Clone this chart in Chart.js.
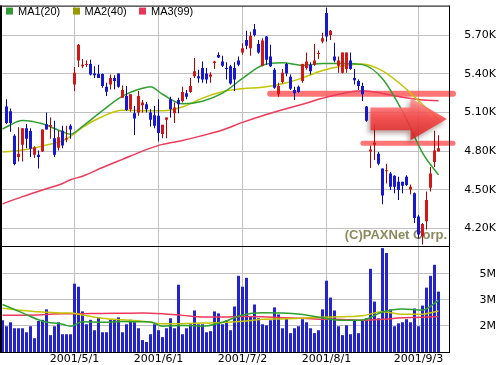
<!DOCTYPE html>
<html>
<head>
<meta charset="utf-8">
<script src="https://cdn.jsdelivr.net/npm/chart.js@4.4.0/dist/chart.umd.min.js"></script>
<style>
html, body { margin: 0; padding: 0; background: #fff; }
#wrap { width: 499px; height: 365px; position: relative; }
</style>
</head>
<body>
<div id="wrap"><canvas id="myChart"></canvas></div>
<script>
"use strict"
// Kursdaten in K, Index 0..109 (ein Balken pro Handelstag)
const openP = [null, 5.146, 5.110, 4.92, 4.754, 4.849, 4.977, 4.956, 4.772, 4.772,
  4.797, 5.008, 4.992, 4.90, 4.826, 4.959, 4.89, 4.997, 5.318, 5.505,
  5.459, 5.469, 5.477, 5.403, 5.40, 5.40, 5.30, 5.318, 5.369, 5.403,
  5.215, 5.228, 5.126, 5.095, 5.10, 5.156, 5.164, 5.10, 5.079, 5.074,
  4.933, 5.044, 5.203, 5.095, 5.197, 5.19, 5.249, 5.259, 5.382, 5.382,
  5.446, 5.403, 5.377, 5.484, 5.546, 5.497, 5.446, 5.459, 5.446, 5.505,
  5.567, 5.664, 5.60, 5.746, 5.633, 5.464, 5.69, 5.536, 5.433, 5.241,
  5.336, 5.477, 5.377, 5.274, 5.30, 5.344, 5.446, 5.472, 5.472, 5.554,
  5.651, 5.874, 5.703, 5.536, 5.464, 5.408, 5.438, 5.505, 5.369, 5.344,
  5.305, 5.146, 4.797, 4.849, 4.779, 4.664, 4.644, 4.626, 4.608, 4.562,
  4.562, 4.60, 4.502, 4.472, 4.292, 4.138, 4.254, 4.515, 4.715, 4.797]
const highP = [null, 5.203, 5.131, 4.93, 4.985, 4.977, 5.010, 4.977, 4.838, 4.805,
  4.967, 5.10, 5.062, 5.036, 4.959, 4.997, 4.997, 5.008, 5.454, 5.633,
  5.515, 5.505, 5.51, 5.459, 5.472, 5.403, 5.331, 5.395, 5.39, 5.403,
  5.31, 5.305, 5.241, 5.151, 5.267, 5.197, 5.182, 5.126, 5.151, 5.203,
  5.005, 5.062, 5.223, 5.177, 5.215, 5.30, 5.274, 5.369, 5.523, 5.433,
  5.497, 5.446, 5.413, 5.503, 5.569, 5.541, 5.49, 5.472, 5.49, 5.536,
  5.638, 5.736, 5.728, 5.787, 5.664, 5.677, 5.695, 5.626, 5.446, 5.331,
  5.438, 5.484, 5.395, 5.30, 5.31, 5.479, 5.567, 5.49, 5.633, 5.582,
  5.72, 5.915, 5.741, 5.643, 5.536, 5.567, 5.567, 5.567, 5.438, 5.356,
  5.331, 5.151, 4.844, 5.01, 4.792, 4.664, 4.702, 4.638, 4.613, 4.60,
  4.562, 4.613, 4.541, 4.479, 4.305, 4.241, 4.485, 4.677, 4.959, 4.923]
const lowP = [null, 5.010, 4.951, 4.69, 4.72, 4.72, 4.823, 4.754, 4.746, 4.664,
  4.792, 4.967, 4.895, 4.754, 4.805, 4.823, 4.869, 4.895, 5.267, 5.454,
  5.446, 5.454, 5.387, 5.369, 5.369, 5.292, 5.228, 5.279, 5.28, 5.292,
  5.215, 5.113, 5.105, 4.926, 5.074, 5.10, 5.10, 4.992, 4.977, 4.874,
  4.90, 4.90, 5.062, 5.018, 5.095, 5.177, 5.203, 5.254, 5.369, 5.331,
  5.331, 5.326, 5.331, 5.438, 5.523, 5.454, 5.356, 5.318, 5.267, 5.459,
  5.549, 5.592, 5.541, 5.69, 5.556, 5.459, 5.472, 5.454, 5.285, 5.223,
  5.326, 5.382, 5.274, 5.197, 5.254, 5.331, 5.433, 5.395, 5.464, 5.515,
  5.638, 5.651, 5.664, 5.49, 5.408, 5.403, 5.408, 5.433, 5.318, 5.274,
  5.19, 5.028, 4.669, 4.731, 4.69, 4.387, 4.549, 4.497, 4.472, 4.42,
  4.472, 4.531, 4.464, 4.241, 4.12, 4.074, 4.19, 4.485, 4.677, 4.797]
const closeP = [null, 5.018, 5.018, 4.70, 4.779, 4.977, 4.895, 4.818, 4.828, 4.754,
  4.967, 4.967, 5.003, 4.772, 4.908, 4.844, 4.90, 4.967, 5.408, 5.626,
  5.472, 5.474, 5.395, 5.39, 5.369, 5.305, 5.262, 5.369, 5.344, 5.30,
  5.274, 5.12, 5.241, 5.054, 5.228, 5.177, 5.126, 5.044, 4.997, 4.941,
  5.005, 5.062, 5.126, 5.138, 5.164, 5.259, 5.223, 5.305, 5.421, 5.367,
  5.356, 5.356, 5.395, 5.497, 5.528, 5.464, 5.438, 5.326, 5.356, 5.472,
  5.60, 5.618, 5.695, 5.703, 5.567, 5.659, 5.51, 5.459, 5.292, 5.305,
  5.408, 5.403, 5.285, 5.249, 5.259, 5.477, 5.497, 5.421, 5.505, 5.561,
  5.677, 5.69, 5.736, 5.505, 5.505, 5.567, 5.567, 5.438, 5.351, 5.305,
  5.241, 5.036, 4.813, 4.864, 4.702, 4.454, 4.651, 4.523, 4.523, 4.497,
  4.531, 4.536, 4.523, 4.279, 4.151, 4.233, 4.42, 4.626, 4.805, 4.823]
// Volumen in Mio.
const volume = [2.07, 1.68, 1.94, 1.55, 1.55, 1.55, 1.29, 1.68, 0.90, 2.02,
  2.10, 2.78, 1.10, 1.68, 1.94, 1.16, 1.16, 1.16, 4.46, 4.26,
  2.65, 1.81, 2.10, 1.42, 2.26, 1.29, 1.29, 2.10, 2.10, 2.26,
  1.29, 1.81, 2.10, 1.94, 1.55, 0.78, 0.65, 1.16, 1.81, 1.42,
  0.97, 1.55, 2.20, 1.55, 4.39, 1.16, 1.55, 1.81, 2.71, 1.81,
  1.81, 1.29, 1.36, 2.65, 2.52, 1.81, 2.07, 1.42, 2.97, 4.97,
  4.26, 4.84, 2.33, 3.10, 2.20, 1.81, 1.74, 2.07, 2.91, 2.45,
  1.55, 2.20, 1.23, 1.55, 1.68, 2.14, 1.94, 1.55, 1.23, 1.42,
  2.78, 4.65, 3.55, 2.71, 1.68, 1.10, 1.74, 1.16, 2.07, 1.23,
  2.07, 2.20, 5.43, 3.29, 2.20, 6.78, 6.46, 2.78, 1.68, 1.87,
  1.94, 2.14, 1.94, 2.84, 1.68, 3.03, 4.20, 4.97, 5.69, 3.94]

// Gleitende Durchschnitte (an diesen Indizes)
const maIdx = [0, 5, 10, 15, 17, 20, 25, 30, 35, 37, 40, 45, 50, 55, 60, 65, 70, 75, 80, 85, 90, 95, 100, 105, 109]
const ma1 = [4.972, 5.038, 5.012, 4.95, 4.931, 4.992, 5.115, 5.227, 5.288, 5.30, 5.242, 5.168, 5.188, 5.25, 5.365, 5.467, 5.486, 5.467, 5.481, 5.481, 5.472, 5.362, 5.108, 4.787, 4.615]
const ma2 = [4.792, 4.808, 4.84, 4.881, 4.915, 4.985, 5.069, 5.117, 5.114, 5.113, 5.113, 5.142, 5.212, 5.262, 5.285, 5.296, 5.323, 5.369, 5.427, 5.462, 5.477, 5.423, 5.308, 5.162, 5.046]
const ma3 = [4.39, 4.446, 4.498, 4.548, 4.577, 4.605, 4.672, 4.736, 4.80, 4.823, 4.852, 4.882, 4.921, 4.964, 5.023, 5.075, 5.121, 5.164, 5.21, 5.248, 5.269, 5.248, 5.218, 5.198, 5.192]
const vma1 = [3.10, 2.55, 2.01, 1.81, 1.68, 1.97, 1.94, 1.99, 1.97, 1.96, 1.68, 1.73, 1.68, 1.94, 2.42, 2.56, 2.55, 2.45, 2.23, 2.07, 2.09, 2.61, 2.81, 2.74, 3.36]
const vma2 = [2.86, 2.71, 2.61, 2.54, 2.54, 2.42, 2.21, 2.10, 2.01, 1.94, 1.84, 1.85, 1.89, 1.92, 2.00, 2.13, 2.16, 2.21, 2.27, 2.30, 2.36, 2.63, 2.47, 2.47, 2.67]
const vma3 = [2.39, 2.40, 2.43, 2.49, 2.49, 2.50, 2.52, 2.53, 2.54, 2.53, 2.49, 2.39, 2.29, 2.29, 2.32, 2.30, 2.24, 2.20, 2.14, 2.12, 2.07, 2.13, 2.23, 2.26, 2.32]
const maNames = ['MA1(20)', 'MA2(40)', 'MA3(99)']

// Achsen
const tickIdx = [18, 39, 60, 81, 104]
const tickLabels = ['2001/5/1', '2001/6/1', '2001/7/2', '2001/8/1', '2001/9/3']
const priceTicks = [4.2, 4.5, 4.8, 5.1, 5.4, 5.7]
const priceLabels = ['4.20K', '4.50K', '4.80K', '5.10K', '5.40K', '5.70K']
const volTicks = [1.7, 3.4, 5.1]
const volLabels = ['2M', '3M', '5M']

// Markierungen (Index / Kurs)
const bandLines = [{from: 66.9, price: 5.245, width: 6}, {from: 90.1, price: 4.86, width: 5}]
const arrow = {from: 92, head: 102, tip: 111.1, price: 5.05, body: 0.088, wing: 0.165}

const RED = '#d01818', BLUE = '#1818d0'
const lineColors = ['#2fa02f', '#c4c400', '#ee3a5a']
const boxColors = ['#339933', '#999900', '#e8365a']

const idx = openP.map((v, i) => i).filter(i => openP[i] !== null)
const candleColor = idx.map(i => closeP[i] >= openP[i] ? RED : BLUE)
const wickColor = idx.map(i => closeP[i] >= openP[i] ? '#b00000' : '#0000b0')

function maData(arr) {
    return maIdx.map((v, k) => ({x: v, y: arr[k]}))
}
function maLine(label, arr, color, axis, order) {
    return {
        type: 'line', label: label, data: maData(arr), yAxisID: axis,
        borderColor: color, borderWidth: 1.5, pointRadius: 0,
        cubicInterpolationMode: 'monotone', order: order
    }
}

const deco = {
    id: 'deco',
    beforeDatasetsDraw(chart) {
        const {ctx, chartArea: a, scales: {x, y}} = chart
        ctx.save()
        ctx.font = 'bold 13px "Liberation Sans", Arial, sans-serif'
        ctx.fillStyle = '#8a8a5e'
        ctx.textAlign = 'right'
        ctx.textBaseline = 'alphabetic'
        ctx.fillText('(C)PAXNet Corp.', a.right - 2, y.bottom - 7)
        // rote Markierungslinien
        ctx.strokeStyle = 'rgba(255,70,70,0.75)'
        ctx.lineCap = 'round'
        bandLines.forEach(b => {
            const yy = y.getPixelForValue(b.price)
            ctx.lineWidth = b.width
            ctx.beginPath()
            ctx.moveTo(x.getPixelForValue(b.from), yy)
            ctx.lineTo(a.right + 4, yy)
            ctx.stroke()
        })
        ctx.restore()
    },
    afterDatasetsDraw(chart) {
        const {ctx, chartArea: a, scales: {x, y}} = chart
        ctx.save()
        ctx.beginPath()
        ctx.rect(a.left, a.top, a.right - a.left, a.bottom - a.top)
        ctx.clip()
        // Pfeil
        const x0 = x.getPixelForValue(arrow.from), xh = x.getPixelForValue(arrow.head), xt = x.getPixelForValue(arrow.tip)
        const yc = y.getPixelForValue(arrow.price)
        const bh = y.getPixelForValue(arrow.price - arrow.body) - yc
        const wh = y.getPixelForValue(arrow.price - arrow.wing) - yc
        ctx.beginPath()
        ctx.moveTo(x0, yc - bh)
        ctx.lineTo(xh, yc - bh)
        ctx.lineTo(xh, yc - wh)
        ctx.lineTo(xt, yc)
        ctx.lineTo(xh, yc + wh)
        ctx.lineTo(xh, yc + bh)
        ctx.lineTo(x0, yc + bh)
        ctx.closePath()
        const g = ctx.createLinearGradient(0, yc - wh, 0, yc + wh)
        g.addColorStop(0, 'rgba(255,150,150,0.85)')
        g.addColorStop(0.45, 'rgba(255,70,70,0.85)')
        g.addColorStop(1, 'rgba(215,30,30,0.85)')
        ctx.fillStyle = g
        ctx.shadowColor = 'rgba(60,0,0,0.45)'
        ctx.shadowBlur = 5
        ctx.shadowOffsetX = -2
        ctx.shadowOffsetY = 3
        ctx.fill()
        ctx.restore()

        // Legende oben links
        ctx.save()
        ctx.font = '11px "Liberation Sans", Arial, sans-serif'
        ctx.textBaseline = 'middle'
        ctx.textAlign = 'left'
        maNames.forEach((n, k) => {
            const lx = a.left + 4 + k * 66.5
            ctx.fillStyle = boxColors[k]
            ctx.fillRect(Math.round(lx), a.top + 1, 7, 7)
            ctx.fillStyle = '#000'
            ctx.fillText(n, lx + 12, a.top + 5)
        })
        // Rahmen
        ctx.fillStyle = '#000'
        ctx.fillRect(0, a.top - 1, 2, a.bottom - a.top + 2)
        ctx.fillRect(0, a.top - 1, a.right + 1, 1)
        ctx.fillRect(a.right, a.top - 1, 1, a.bottom - a.top + 2)
        ctx.fillRect(0, Math.round(y.bottom), a.right, 1)
        ctx.fillRect(0, a.bottom, a.right + 1, 1)
        ctx.restore()
    }
}

const tickFont = {family: 'DejaVu Sans', size: 11}

const config = {
    data: {
        datasets: [
            {
                type: 'bar', label: 'wick', yAxisID: 'y',
                data: idx.map(i => ({x: i, y: [lowP[i], highP[i]]})),
                backgroundColor: wickColor, barThickness: 1, grouped: false,
                inflateAmount: 0, order: 2
            },
            {
                type: 'bar', label: 'body', yAxisID: 'y',
                data: idx.map(i => ({x: i, y: [openP[i], closeP[i]]})),
                backgroundColor: candleColor, barThickness: 3, minBarLength: 1,
                grouped: false, inflateAmount: 0, order: 1
            },
            {
                type: 'bar', label: 'vol', yAxisID: 'yv',
                data: volume.map((v, i) => ({x: i, y: v})),
                backgroundColor: '#2424cc', barThickness: 3, grouped: false,
                inflateAmount: 0, order: 6
            },
            maLine(maNames[0], ma1, lineColors[0], 'y', 3),
            maLine(maNames[1], ma2, lineColors[1], 'y', 4),
            maLine(maNames[2], ma3, lineColors[2], 'y', 5),
            maLine('v' + maNames[0], vma1, lineColors[0], 'yv', 0),
            maLine('v' + maNames[1], vma2, lineColors[1], 'yv', 0),
            maLine('v' + maNames[2], vma3, lineColors[2], 'yv', 0)
        ]
    },
    options: {
        responsive: true,
        maintainAspectRatio: false,
        animation: false,
        layout: {padding: {left: 2, top: 3, right: 3, bottom: 0}},
        plugins: {legend: {display: false}, tooltip: {enabled: false}},
        scales: {
            x: {
                type: 'linear', min: -0.125, max: 111.625, offset: false,
                afterBuildTicks: s => { s.ticks = tickIdx.map(v => ({value: v})) },
                afterFit: s => { s.height = 13 },
                ticks: {autoSkip: false, maxRotation: 0, padding: 1, color: '#000', font: tickFont,
                    callback: (v, i) => tickLabels[i]},
                grid: {color: '#c0c0c0', drawTicks: false, tickLength: 0, offset: false},
                border: {display: false}
            },
            y: {
                type: 'linear', position: 'right', stack: 'main', stackWeight: 242,
                min: 4.0615, max: 5.923,
                afterBuildTicks: s => { s.ticks = priceTicks.map(v => ({value: v})) },
                afterFit: s => { s.width = 47 },
                ticks: {crossAlign: 'far', padding: 0, color: '#000', font: tickFont,
                    callback: (v, i) => priceLabels[i]},
                grid: {color: '#c0c0c0', drawTicks: false, tickLength: 0},
                border: {display: false}
            },
            yv: {
                type: 'linear', position: 'right', stack: 'main', stackWeight: 107,
                min: 0, max: 6.91,
                afterBuildTicks: s => { s.ticks = volTicks.map(v => ({value: v})) },
                afterFit: s => { s.width = 47 },
                ticks: {crossAlign: 'far', padding: 0, color: '#000', font: tickFont,
                    callback: (v, i) => volLabels[i]},
                grid: {color: '#c0c0c0', drawTicks: false, tickLength: 0},
                border: {display: false}
            }
        }
    },
    plugins: [deco]
}

new Chart(document.getElementById('myChart'), config)
</script>
</body>
</html>
